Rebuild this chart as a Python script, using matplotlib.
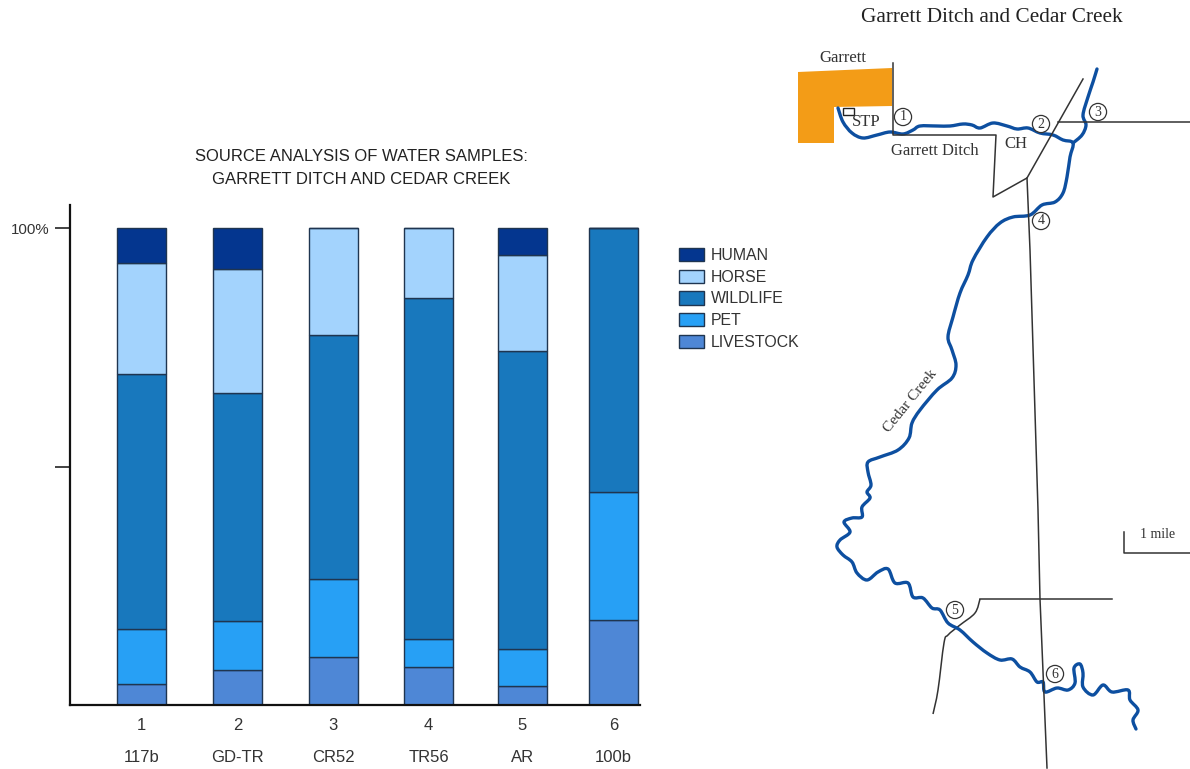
import numpy as np
import matplotlib
matplotlib.use('Agg')
import matplotlib.pyplot as plt
from matplotlib.patches import Patch, Polygon, Rectangle
from matplotlib.path import Path
from matplotlib.patches import PathPatch

site_numbers = ['1', '2', '3', '4', '5', '6']
site_names = ['117b', 'GD-TR', 'CR52', 'TR56', 'AR', '100b']
bar_x = [141.5, 237.5, 333, 428.5, 522.5, 613.5]

# percent of each source, bottom to top
livestock = [4.4, 7.3, 10.1, 8.0, 4.0, 17.8]
pet = [11.5, 10.3, 16.3, 5.8, 7.7, 26.9]
wildlife = [53.5, 47.8, 51.2, 71.5, 62.5, 55.3]
horse = [23.3, 26.0, 22.4, 14.7, 20.1, 0]
human = [7.3, 8.6, 0, 0, 5.7, 0]

source_names = ['LIVESTOCK', 'PET', 'WILDLIFE', 'HORSE', 'HUMAN']
source_colors = ['#4e87d6', '#27a0f5', '#1878bd', '#a3d3fd', '#04368f']
edge_color = '#1f3550'

# map lines, in picture pixels
creek_main = [(838, 108), (843, 122), (852, 133), (863, 138), (877, 135), (890, 132), (903, 134),
              (913, 130), (920, 126), (937, 126), (950, 126), (963, 124), (972, 125), (980, 128),
              (993, 123), (1007, 126), (1017, 129), (1028, 128), (1040, 133), (1053, 135),
              (1063, 140), (1073, 143), (1070, 157), (1067, 177), (1063, 193), (1055, 202),
              (1042, 205), (1030, 215), (1013, 217), (1000, 223), (987, 237), (973, 260),
              (968, 275), (960, 293), (953, 317), (948, 337), (952, 350), (956, 365), (952, 378),
              (937, 390), (920, 410), (912, 423), (909, 438), (898, 450), (880, 457), (868, 462),
              (868, 472), (871, 485), (867, 492), (870, 498), (862, 507), (862, 517), (852, 518),
              (844, 522), (850, 532), (840, 540), (837, 547), (843, 555), (852, 562), (857, 573),
              (867, 580), (878, 572), (888, 569), (895, 583), (908, 583), (913, 597), (923, 598),
              (932, 608), (940, 610), (948, 623), (960, 630), (973, 642), (987, 653), (1000, 660),
              (1012, 659), (1020, 667), (1030, 672), (1037, 682), (1043, 682), (1045, 692),
              (1057, 688), (1068, 690), (1075, 683), (1074, 668), (1080, 664), (1083, 673),
              (1083, 687), (1093, 695), (1103, 685), (1112, 692), (1128, 690), (1130, 700),
              (1138, 710), (1133, 720), (1136, 729)]
creek_branch = [(1073, 143), (1082, 135), (1086, 125), (1083, 115), (1088, 97), (1093, 82), (1097, 69)]

ditch = [(893, 63), (893, 135), (996, 135), (993, 197), (1027, 178), (1083, 79)]
road_east = [(1058, 122), (1190, 122)]
road_south = [(1027, 178), (1030, 250), (1038, 510), (1040, 599), (1047, 768)]
road_five_top = [(1112, 599), (980, 599)]
road_five_bend = [(980, 599), (975, 613), (960, 625), (948, 635), (944, 643), (938, 690), (933, 714)]
scale_bar = [(1124, 532), (1124, 553), (1190, 553)]
town_area = [(798, 72), (892, 68), (892, 106), (834, 107), (834, 143), (798, 143)]

marker_labels = ['1', '2', '3', '4', '5', '6']
marker_x = [903, 1041, 1098, 1041, 955, 1055]
marker_y = [117, 124, 112, 221, 610, 674]


def smooth_path(points):
    # catmull-rom through the points, so the creek does not look jagged
    pts = np.array(points, dtype=float)
    verts = [pts[0]]
    codes = [Path.MOVETO]
    for i in range(len(pts) - 1):
        p0 = pts[max(i - 1, 0)]
        p1 = pts[i]
        p2 = pts[i + 1]
        p3 = pts[min(i + 2, len(pts) - 1)]
        verts += [p1 + (p2 - p0) / 6, p2 - (p3 - p1) / 6, p2]
        codes += [Path.CURVE4, Path.CURVE4, Path.CURVE4]
    return Path(verts, codes)


plt.rcParams['font.family'] = ['Liberation Sans', 'DejaVu Sans']
fig = plt.figure(figsize=(11.9, 7.69), dpi=100)

W = 1190
H = 769
ax = fig.add_axes([70 / W, 1 - 705 / H, 570 / W, 500 / H])
ax.set_xlim(70, 640)
ax.set_ylim(0, 500 / 477 * 100)

bottom = np.zeros(6)
for values, color in zip([livestock, pet, wildlife, horse, human], source_colors):
    ax.bar(bar_x, values, width=49, bottom=bottom, color=color, edgecolor=edge_color, linewidth=1.0)
    bottom = bottom + np.array(values)

ax.spines['top'].set_visible(False)
ax.spines['right'].set_visible(False)
ax.spines['left'].set_linewidth(1.6)
ax.spines['bottom'].set_linewidth(1.6)
ax.spines['left'].set_color('#111111')
ax.spines['bottom'].set_color('#111111')

ax.set_yticks([50, 100])
ax.set_yticklabels(['', '100%'], fontsize=10.8, color='#333333')
ax.tick_params(axis='y', length=11, width=1.2, pad=4, color='#222222')

ax.set_xticks(bar_x)
ax.set_xticklabels([n + '\n' + s for n, s in zip(site_numbers, site_names)],
                   fontsize=12, linespacing=2.45, color='#333333')
ax.tick_params(axis='x', length=0, pad=9)

fig.text(361 / W, 1 - 168 / H, 'SOURCE ANALYSIS OF WATER SAMPLES:\nGARRETT DITCH AND CEDAR CREEK',
         ha='center', va='center', fontsize=12, linespacing=1.6, color='#222222')

handles = [Patch(facecolor=c, edgecolor=edge_color, linewidth=1.0, label=n)
           for n, c in zip(source_names, source_colors)]
ax.legend(handles=handles[::-1], loc='upper left', bbox_to_anchor=(674 / W, 1 - 243 / H),
          bbox_transform=fig.transFigure, frameon=False, fontsize=11.4, labelcolor='#333333',
          handlelength=1.58, handleheight=0.9, handletextpad=0.45, labelspacing=0.43,
          borderpad=0.3, borderaxespad=0)

# map on the right, drawn in pixel coordinates
map_ax = fig.add_axes([0, 0, 1, 1])
map_ax.set_xlim(0, W)
map_ax.set_ylim(H, 0)
map_ax.axis('off')
map_ax.patch.set_alpha(0)

map_ax.add_patch(Polygon(town_area, closed=True, facecolor='#f39c17', edgecolor='none'))
map_ax.add_patch(Rectangle((843, 108), 11, 7, facecolor='none', edgecolor='#222222', linewidth=1.0))

for line in [ditch, road_east, road_south, road_five_top, scale_bar]:
    xs = [p[0] for p in line]
    ys = [p[1] for p in line]
    map_ax.plot(xs, ys, color='#333333', linewidth=1.1, solid_joinstyle='round')
map_ax.add_patch(PathPatch(smooth_path(road_five_bend), facecolor='none', edgecolor='#333333', linewidth=1.1))

for line in [creek_main, creek_branch]:
    map_ax.add_patch(PathPatch(smooth_path(line), facecolor='none', edgecolor='#0d4fa0',
                               linewidth=2.4, capstyle='round', joinstyle='round'))

serif = ['Liberation Serif', 'DejaVu Serif']
for label, x, y in zip(marker_labels, marker_x, marker_y):
    map_ax.text(x, y, label, ha='center', va='center', fontsize=10, color='#333333', family=serif,
                bbox=dict(boxstyle='circle,pad=0.15', facecolor='white', edgecolor='#333333', linewidth=0.9))

map_ax.text(991.5, 17, 'Garrett Ditch and Cedar Creek', ha='center', va='center', fontsize=15.3,
            color='#222222', family=serif)
map_ax.text(843, 58, 'Garrett', ha='center', va='center', fontsize=12, color='#333333', family=serif)
map_ax.text(866, 122, 'STP', ha='center', va='center', fontsize=12, color='#333333', family=serif)
map_ax.text(935, 151, 'Garrett Ditch', ha='center', va='center', fontsize=11.9, color='#333333', family=serif)
map_ax.text(1016, 144, 'CH', ha='center', va='center', fontsize=12, color='#333333', family=serif)
map_ax.text(910, 401, 'Cedar Creek', ha='center', va='center', fontsize=11, color='#333333',
            family=serif, rotation=51, rotation_mode='anchor')
map_ax.text(1158, 535, '1 mile', ha='center', va='center', fontsize=10, color='#333333', family=serif)

fig.savefig('out.png', dpi=100)
